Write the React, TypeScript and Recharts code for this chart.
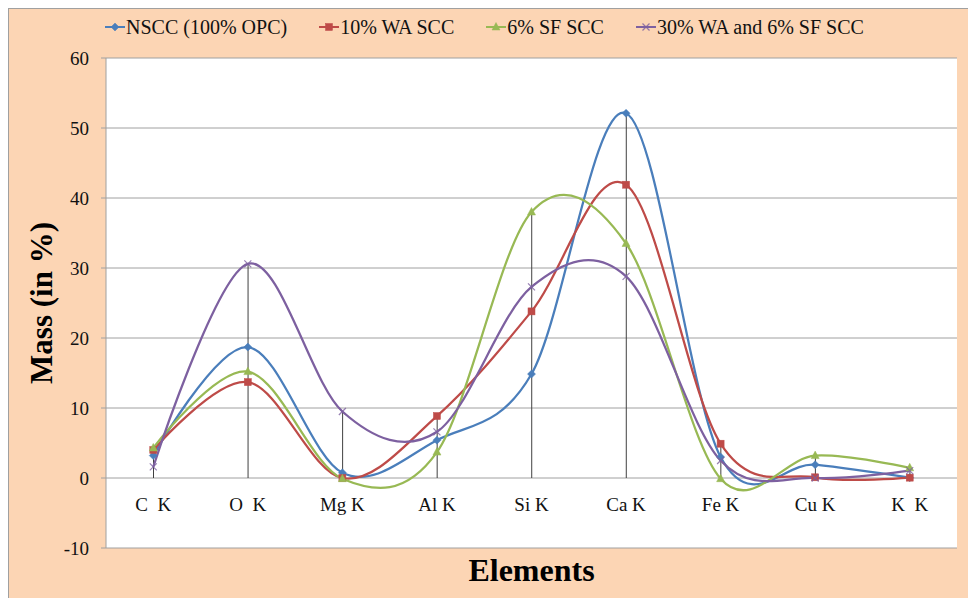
import React from 'react';
import { ComposedChart, Line, Bar, XAxis, YAxis, CartesianGrid, Label } from 'recharts';

const categories = ['C  K', 'O  K', 'Mg K', 'Al K', 'Si K', 'Ca K', 'Fe K', 'Cu K', 'K  K'];
const nscc = [3.2, 18.7, 0.75, 5.4, 14.85, 52.1, 3.0, 1.9, 0.05];
const wa10 = [4.0, 13.7, 0.0, 8.85, 23.8, 41.9, 4.9, 0.1, 0.05];
const sf6 = [4.3, 15.2, -0.1, 3.7, 38.0, 33.5, -0.1, 3.2, 1.45];
const waSf = [1.6, 30.6, 9.5, 6.6, 27.3, 28.8, 2.5, 0.0, 1.05];
const seriesNames = ['NSCC (100% OPC)', '10% WA SCC', '6% SF SCC', '30% WA and 6% SF SCC'];
const yTicks = [-10, 0, 10, 20, 30, 40, 50, 60];

const SERIF = '"Liberation Serif", "Times New Roman", serif';
const PEACH = '#FCD5B4';

const series = [
  { key: 's1', name: seriesNames[0], values: nscc, color: '#4A7EBB', shape: 'diamond' },
  { key: 's2', name: seriesNames[1], values: wa10, color: '#BE4B48', shape: 'square' },
  { key: 's3', name: seriesNames[2], values: sf6, color: '#98B954', shape: 'triangle' },
  { key: 's4', name: seriesNames[3], values: waSf, color: '#7D60A0', shape: 'x' },
];

const data = categories.map((cat, i) => {
  const row: any = { cat };
  series.forEach((s) => {
    row[s.key] = s.values[i];
  });
  row.drop = Math.max(...series.map((s) => s.values[i]));
  return row;
});

// Excel-like smoothed line (cardinal spline, tension 0)
class SmoothCurve {
  _context: any;
  _k = 1 / 6;
  _line: number = NaN;
  _point = 0;
  _x0 = NaN; _x1 = NaN; _x2 = NaN; _y0 = NaN; _y1 = NaN; _y2 = NaN;
  constructor(context: any) {
    this._context = context;
  }
  _bez(x: number, y: number) {
    this._context.bezierCurveTo(
      this._x1 + this._k * (this._x2 - this._x0),
      this._y1 + this._k * (this._y2 - this._y0),
      this._x2 + this._k * (this._x1 - x),
      this._y2 + this._k * (this._y1 - y),
      this._x2,
      this._y2
    );
  }
  areaStart() { this._line = 0; }
  areaEnd() { this._line = NaN; }
  lineStart() {
    this._x0 = this._x1 = this._x2 = this._y0 = this._y1 = this._y2 = NaN;
    this._point = 0;
  }
  lineEnd() {
    switch (this._point) {
      case 2: this._context.lineTo(this._x2, this._y2); break;
      case 3: this._bez(this._x1, this._y1); break;
    }
    if (this._line || (this._line !== 0 && this._point === 1)) this._context.closePath();
    this._line = 1 - this._line;
  }
  point(x: number, y: number) {
    x = +x; y = +y;
    switch (this._point) {
      case 0:
        this._point = 1;
        if (this._line) this._context.lineTo(x, y); else this._context.moveTo(x, y);
        break;
      case 1:
        this._point = 2; this._x1 = x; this._y1 = y;
        break;
      case 2:
        this._point = 3;
        this._bez(x, y);
        break;
      default:
        this._bez(x, y);
        break;
    }
    this._x0 = this._x1; this._x1 = this._x2; this._x2 = x;
    this._y0 = this._y1; this._y1 = this._y2; this._y2 = y;
  }
}
const excelSmooth: any = (context: any) => new SmoothCurve(context);

const Marker = ({ shape, color, cx, cy }: any) => {
  if (shape === 'diamond') {
    return <polygon points={`${cx},${cy - 4} ${cx + 4},${cy} ${cx},${cy + 4} ${cx - 4},${cy}`} fill={color} stroke={color} strokeWidth={0.5} />;
  }
  if (shape === 'square') {
    return <rect x={cx - 3.5} y={cy - 3.5} width={7} height={7} fill={color} stroke={color} strokeWidth={0.5} />;
  }
  if (shape === 'triangle') {
    return <polygon points={`${cx},${cy - 4.5} ${cx + 4},${cy + 3} ${cx - 4},${cy + 3}`} fill={color} stroke={color} strokeWidth={0.5} />;
  }
  return (
    <g stroke={color} strokeWidth={1.2} opacity={0.8}>
      <line x1={cx - 3.5} y1={cy - 3.5} x2={cx + 3.5} y2={cy + 3.5} />
      <line x1={cx - 3.5} y1={cy + 3.5} x2={cx + 3.5} y2={cy - 3.5} />
    </g>
  );
};

const makeDot = (shape: string, color: string) => (props: any) => {
  const { cx, cy, index } = props;
  if (cx == null || cy == null || isNaN(cx) || isNaN(cy)) return <g key={`${shape}-${index}`} />;
  return (
    <g key={`${shape}-${index}`}>
      <Marker shape={shape} color={color} cx={cx} cy={cy} />
    </g>
  );
};

const XTick = (props: any) => {
  const { x, y, payload } = props;
  return (
    <text
      x={x}
      y={y - 52}
      textAnchor="middle"
      dominantBaseline="central"
      fontFamily={SERIF}
      fontSize={19}
      fill="#111"
      style={{ whiteSpace: 'pre' }}
    >
      {payload.value}
    </text>
  );
};

const YTitle = (props: any) => {
  const vb = props.viewBox || { x: 0, y: 49, width: 97, height: 490 };
  const cx = vb.x + 32;
  const cy = vb.y + vb.height / 2;
  return (
    <text
      x={cx}
      y={cy}
      transform={`rotate(-90 ${cx} ${cy})`}
      textAnchor="middle"
      dominantBaseline="central"
      fontFamily={SERIF}
      fontWeight="bold"
      fontSize={31}
      fill="#000"
    >
      Mass (in %)
    </text>
  );
};

const XTitle = (props: any) => {
  const vb = props.viewBox || { x: 97, y: 539, width: 851, height: 50 };
  const cx = vb.x + vb.width / 2;
  const cy = vb.y + 22;
  return (
    <text
      x={cx}
      y={cy}
      textAnchor="middle"
      dominantBaseline="central"
      fontFamily={SERIF}
      fontWeight="bold"
      fontSize={32}
      fill="#000"
    >
      Elements
    </text>
  );
};

const LegendBox = () => (
  <div
    style={{
      position: 'absolute',
      left: 96,
      top: 6,
      display: 'flex',
      flexDirection: 'row',
      alignItems: 'center',
      fontFamily: SERIF,
      fontSize: 20,
      color: '#111',
      whiteSpace: 'nowrap',
      lineHeight: '24px',
    }}
  >
    {series.map((s, i) => (
      <div key={s.key} style={{ display: 'flex', alignItems: 'center', marginLeft: i === 0 ? 0 : 32 }}>
        <svg width={20} height={12} style={{ marginRight: 1 }}>
          <line x1={0} y1={6} x2={20} y2={6} stroke={s.color} strokeWidth={2} />
          <Marker shape={s.shape} color={s.color} cx={10} cy={6} />
        </svg>
        <span>{s.name}</span>
      </div>
    ))}
  </div>
);

export default function App() {
  return (
    <div
      style={{
        position: 'absolute',
        left: 8,
        top: 8,
        width: 960,
        height: 590,
        background: PEACH,
        borderLeft: '1px solid #A0A0A0',
        borderTop: '1px solid #A0A0A0',
        boxSizing: 'border-box',
        overflow: 'hidden',
      }}
    >
      <ComposedChart
        width={959}
        height={589}
        data={data}
        margin={{ top: 49, right: 11, bottom: 0, left: 0 }}
      >
        <CartesianGrid vertical={false} stroke="#A0A0A0" fill="#FFFFFF" fillOpacity={1} />
        <XAxis
          dataKey="cat"
          height={50}
          axisLine={false}
          tickLine={false}
          tickSize={6}
          tick={<XTick />}
          interval={0}
        >
          <Label content={<XTitle />} />
        </XAxis>
        <YAxis
          width={97}
          domain={[-10, 60]}
          ticks={yTicks}
          allowDataOverflow
          axisLine={{ stroke: '#A0A0A0' }}
          tickLine={{ stroke: '#A0A0A0' }}
          tickSize={5}
          tickMargin={12}
          tick={{ fontFamily: SERIF, fontSize: 19, fill: '#111' }}
        >
          <Label content={<YTitle />} />
        </YAxis>
        <Bar dataKey="drop" barSize={1} fill="#404040" isAnimationActive={false} legendType="none" />
        {series.map((s) => (
          <Line
            key={s.key}
            dataKey={s.key}
            name={s.name}
            type={excelSmooth}
            stroke={s.color}
            strokeWidth={2.25}
            dot={makeDot(s.shape, s.color)}
            activeDot={false}
            isAnimationActive={false}
          />
        ))}
      </ComposedChart>
      <LegendBox />
    </div>
  );
}
